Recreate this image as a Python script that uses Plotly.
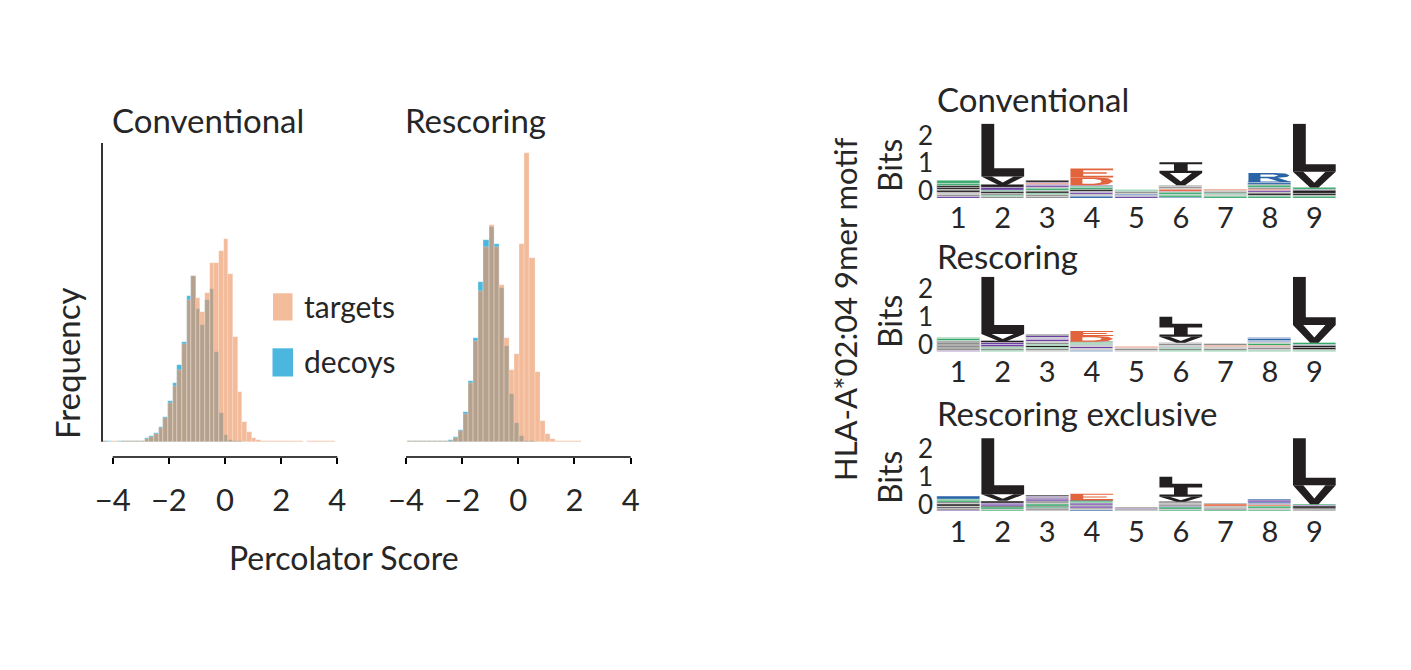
import plotly.graph_objects as go

W, H = 1411, 670
FONT = "Source Sans Pro, Lato, sans-serif"
TXT = "#262626"

# ---------------- histogram data (bar heights, arbitrary frequency units) -------------
conv_bin_start = -4.349
conv_bin_width = 0.1655
conv_targets = [0.3, 0.0, 0.3, 0.0, 0.3, 0.3, 0.7, 0.7,
                1, 2.7, 5, 7.7, 14, 24, 39, 56, 72, 98, 142, 165.7, 144, 130, 149, 179, 179,
                190.7, 202.7, 168, 105, 50, 20, 10, 4, 1.7, 0.7,
                0.3, 0.3, 0.3, 0.3, 0.3, 0.3, 0.3, 0.3, 0, 0.3, 0.3, 0.3, 0.3, 0.3, 0.3]
conv_decoys = [0.3, 0.3, 0, 0.3, 0.3, 0.7, 0.7, 0.7,
               1, 3.3, 5.3, 9, 14.7, 24.7, 40.3, 58.7, 76.7, 99.3, 145.7, 165.7, 133, 117, 142,
               153, 89.7, 29, 6.7, 1.7, 0.7, 0.3, 0, 0, 0, 0, 0,
               0, 0, 0, 0, 0, 0, 0, 0, 0, 0, 0, 0, 0, 0, 0]

resc_bin_start = -3.96
resc_bin_width = 0.182
resc_targets = [0.3, 0.3, 0.3, 0.3, 0.3, 0.3, 0.3, 0.7,
                1, 3.7, 10.7, 27.3, 58.3, 101, 150.3, 194.3, 216.7, 194.3, 156.7, 104, 72, 87.3,
                197.3, 288.7, 183.7, 70, 21, 7.3, 2.7, 0.7,
                0.3, 0.3, 0.3, 0.3]
resc_decoys = [0.3, 0.3, 0.3, 0.3, 0.3, 0.3, 0.3, 0.7,
               1.3, 4.3, 11.7, 30, 60.3, 103.7, 159.7, 201.7, 214.3, 197.7, 153.3, 96, 47.7, 18.7,
               5.3, 1, 0.3, 0, 0, 0, 0, 0,
               0, 0, 0, 0]

hist_xticks = [-4, -2, 0, 2, 4]
hist_ymax = 298.7

# ---------------- sequence logo data (letter, bits) bottom -> top ----------------------
logo_positions = [1, 2, 3, 4, 5, 6, 7, 8, 9]
logo_titles = ["Conventional", "Rescoring", "Rescoring exclusive"]
logo_yticks = [0, 1, 2]
stack_floor = -0.25

logo_conventional = [
    [("Q", .05), ("A", .06), ("G", .04), ("P", .04), ("L", .08), ("A", .05), ("V", .07), ("I", .05), ("T", .09), ("S", .10)],
    [("G", .05), ("S", .05), ("A", .05), ("I", .07), ("T", .05), ("Q", .09), ("M", .11), ("V", .30), ("L", 1.90)],
    [("G", .05), ("A", .06), ("T", .06), ("V", .06), ("P", .05), ("S", .05), ("A", .05), ("Q", .06), ("N", .05), ("E", .03), ("Q", .05), ("L", .07)],
    [("H", .04), ("A", .05), ("G", .05), ("N", .06), ("P", .05), ("L", .04), ("S", .07), ("T", .05), ("Q", .05), ("D", .28), ("E", .32)],
    [("Q", .04), ("A", .05), ("K", .04), ("G", .05), ("P", .05), ("S", .04), ("T", .03), ("E", .02)],
    [("H", .03), ("S", .05), ("A", .06), ("T", .05), ("Q", .06), ("E", .04), ("G", .05), ("P", .06), ("A", .06), ("V", .44), ("I", .39)],
    [("S", .05), ("A", .05), ("G", .04), ("T", .04), ("P", .05), ("A", .04), ("E", .04)],
    [("T", .05), ("G", .05), ("L", .05), ("A", .06), ("Q", .06), ("E", .05), ("P", .05), ("S", .07), ("V", .04), ("K", .07), ("H", .03), ("R", .32)],
    [("S", .04), ("A", .06), ("M", .08), ("I", .10), ("Q", .04), ("T", .06), ("V", .56), ("L", 1.73)],
]
logo_rescoring = [
    [("Q", .05), ("A", .06), ("L", .05), ("G", .04), ("V", .06), ("P", .05), ("I", .05), ("A", .04), ("T", .05), ("S", .05)],
    [("T", .05), ("A", .05), ("S", .04), ("I", .05), ("Q", .07), ("N", .05), ("M", .07), ("V", .25), ("L", 2.05)],
    [("G", .05), ("A", .06), ("T", .05), ("V", .05), ("S", .05), ("P", .05), ("A", .05), ("Q", .06), ("N", .05), ("A", .04), ("Q", .05), ("L", .04)],
    [("H", .03), ("A", .05), ("G", .04), ("N", .05), ("P", .04), ("Q", .05), ("S", .04), ("T", .03), ("L", .03), ("D", .20), ("E", .18)],
    [("A", .05), ("P", .05), ("G", .04), ("E", .04)],
    [("S", .04), ("A", .05), ("T", .04), ("Q", .05), ("G", .04), ("P", .05), ("A", .05), ("V", .21), ("I", .42), ("L", .30)],
    [("S", .04), ("A", .05), ("G", .04), ("P", .05), ("E", .04), ("A", .05)],
    [("T", .04), ("G", .04), ("A", .05), ("Q", .04), ("E", .05), ("S", .05), ("P", .04), ("N", .05), ("K", .05), ("R", .04), ("H", .05)],
    [("S", .03), ("A", .05), ("M", .06), ("I", .08), ("Q", .04), ("T", .06), ("V", .63), ("L", 1.73)],
]
logo_exclusive = [
    [("Q", .05), ("A", .06), ("L", .05), ("G", .04), ("V", .06), ("P", .05), ("I", .04), ("S", .06), ("T", .05), ("K", .08)],
    [("T", .05), ("A", .05), ("S", .05), ("I", .05), ("Q", .07), ("N", .05), ("M", .07), ("V", .24), ("L", 2.02)],
    [("G", .05), ("A", .06), ("T", .05), ("V", .05), ("S", .06), ("P", .05), ("A", .05), ("Q", .06), ("N", .05), ("A", .04), ("Q", .04), ("L", .04)],
    [("H", .04), ("A", .05), ("G", .05), ("N", .05), ("P", .05), ("Q", .05), ("S", .04), ("T", .04), ("L", .04), ("E", .24)],
    [("A", .05), ("P", .05), ("Q", .03), ("G", .03)],
    [("S", .05), ("A", .05), ("T", .05), ("Q", .06), ("G", .05), ("P", .05), ("A", .05), ("V", .18), ("I", .42), ("L", .30)],
    [("S", .05), ("A", .06), ("G", .05), ("P", .05), ("E", .05), ("A", .06)],
    [("T", .04), ("G", .04), ("A", .05), ("S", .05), ("E", .04), ("P", .04), ("N", .05), ("K", .04), ("Q", .05), ("R", .04)],
    [("S", .03), ("A", .04), ("M", .06), ("I", .06), ("Q", .03), ("T", .05), ("V", .68), ("L", 1.70)],
]

# ---------------- styles ----------------
TARGET_COLOR = "rgba(237,150,100,0.65)"
TARGET_SWATCH = "rgb(243,188,154)"
DECOY_COLOR = "rgb(75,183,222)"

AA_COLORS = {}
for a in "LIVMFW":
    AA_COLORS[a] = "#231f20"
for a in "APG":
    AA_COLORS[a] = "#8e8e8e"
for a in "STYC":
    AA_COLORS[a] = "#37a86b"
for a in "NQ":
    AA_COLORS[a] = "#6b3fa3"
for a in "KRH":
    AA_COLORS[a] = "#2a63a6"
for a in "DE":
    AA_COLORS[a] = "#e2643c"

# glyph outlines in a unit box (x: 0..1 across column, y: 0..1 up the letter height)
GLYPHS = {
    "L": [[(0, 0), (1, 0), (1, 0.16), (0.3, 0.16), (0.3, 1), (0, 1)]],
    "V": [[(0, 1), (0.4, 0), (0.6, 0), (1, 1), (0.76, 1), (0.5, 0.3), (0.24, 1)]],
    "I": [[(0, 0), (1, 0), (1, 0.2), (0.66, 0.2), (0.66, 0.8), (1, 0.8), (1, 1), (0, 1),
           (0, 0.8), (0.34, 0.8), (0.34, 0.2), (0, 0.2)]],
    "E": [[(0, 0), (1, 0), (1, 0.18), (0.3, 0.18), (0.3, 0.42), (0.85, 0.42), (0.85, 0.58),
           (0.3, 0.58), (0.3, 0.82), (1, 0.82), (1, 1), (0, 1)]],
    "D": [[(0, 0), (0.6, 0), (0.88, 0.12), (1, 0.5), (0.88, 0.88), (0.6, 1), (0, 1)],
          [(0.28, 0.2), (0.55, 0.2), (0.7, 0.32), (0.73, 0.5), (0.7, 0.68), (0.55, 0.8), (0.28, 0.8)]],
    "R": [[(0, 0), (0.28, 0), (0.28, 0.42), (0.45, 0.42), (0.74, 0), (1, 0), (0.68, 0.46),
           (0.9, 0.56), (0.96, 0.75), (0.86, 0.94), (0.6, 1), (0, 1)],
          [(0.28, 0.58), (0.28, 0.84), (0.6, 0.84), (0.7, 0.72), (0.6, 0.58)]],
}
COL_W = 0.96

fig = go.Figure()
shapes = []
annotations = []


def px_x(px):
    return px / W


def px_y(py):
    return 1 - py / H


# ---------------- histograms ----------------
def add_hist(start, width, targets, decoys, xa, ya):
    centers = [start + width * (i + 0.5) for i in range(len(targets))]
    fig.add_trace(go.Bar(x=centers, y=decoys, width=width, xaxis=xa, yaxis=ya,
                         marker=dict(color=DECOY_COLOR, line=dict(width=0.5, color="rgba(255,255,255,0.45)")),
                         showlegend=False, hoverinfo="skip"))
    fig.add_trace(go.Bar(x=centers, y=targets, width=width, xaxis=xa, yaxis=ya,
                         marker=dict(color=TARGET_COLOR, line=dict(width=0.5, color="rgba(255,255,255,0.45)")),
                         showlegend=False, hoverinfo="skip"))


add_hist(conv_bin_start, conv_bin_width, conv_targets, conv_decoys, "x", "y")
add_hist(resc_bin_start, resc_bin_width, resc_targets, resc_decoys, "x2", "y2")

ppu = 28.08
hist_range = [-4 - 10.7 / ppu, -4 + (343 - 112.7) / ppu]
hist_ydom = [px_y(457), px_y(143)]
hist_yrange = [-15.3, hist_ymax]

axis_common = dict(showgrid=False, zeroline=False, showline=False, automargin=False)
hx = dict(axis_common, range=hist_range, tickvals=hist_xticks, ticks="outside", ticklen=6,
          tickwidth=1.5, tickcolor="black", tickfont=dict(size=31, family=FONT, color=TXT),
          ticklabelstandoff=10)
hy = dict(axis_common, range=hist_yrange, domain=hist_ydom, showticklabels=False, ticks="")

layout = dict(
    xaxis=dict(hx, domain=[px_x(102), px_x(343)], anchor="y"),
    yaxis=dict(hy, anchor="x"),
    xaxis2=dict(hx, domain=[px_x(395.3), px_x(636.3)], anchor="y2"),
    yaxis2=dict(hy, anchor="x2"),
)

# axis lines (seaborn-style trimmed/offset)
for xr, yr in (("x", "y domain"), ("x2", "y2 domain")):
    shapes.append(dict(type="line", xref=xr, yref=yr, x0=hist_xticks[0], x1=hist_xticks[-1],
                       y0=0, y1=0, line=dict(color="black", width=1.6)))
shapes.append(dict(type="line", xref="x domain", yref="y", x0=0, x1=0, y0=0, y1=hist_ymax,
                   line=dict(color="black", width=1.6)))


def ann(text, x, y, size, xanchor="left", angle=0):
    annotations.append(dict(text=text, x=px_x(x), y=px_y(y), xref="paper", yref="paper",
                            xanchor=xanchor, yanchor="middle", showarrow=False, textangle=angle,
                            font=dict(size=size, family=FONT, color=TXT)))


ann("Conventional", 110, 120, 33)
ann("Rescoring", 403, 120, 33)
ann("Frequency", 67, 363, 33, xanchor="center", angle=-90)
ann("Percolator Score", 344, 557, 32, xanchor="center")

# legend
shapes.append(dict(type="rect", xref="paper", yref="paper", x0=px_x(273), x1=px_x(292.5),
                   y0=px_y(320.5), y1=px_y(293.3), fillcolor=TARGET_SWATCH, line=dict(width=0)))
shapes.append(dict(type="rect", xref="paper", yref="paper", x0=px_x(272.5), x1=px_x(293),
                   y0=px_y(376.5), y1=px_y(348.3), fillcolor=DECOY_COLOR, line=dict(width=0)))
ann("targets", 302, 306, 30)
ann("decoys", 302, 361, 30)


# ---------------- logos ----------------
def glyph_path(letter, pos, y0, h):
    parts = []
    for poly in GLYPHS[letter]:
        pts = [(pos - COL_W / 2 + gx * COL_W, y0 + gy * h) for gx, gy in poly]
        parts.append("M " + " L ".join(f"{x:.4f},{y:.4f}" for x, y in pts) + " Z")
    return " ".join(parts)


def add_logo(panel, xa, ya):
    stripes = {}
    for pos, stack in zip(logo_positions, panel):
        y0 = stack_floor
        for letter, h in stack:
            col = AA_COLORS[letter]
            if letter in GLYPHS and h >= 0.12:
                shapes.append(dict(type="path", path=glyph_path(letter, pos, y0, h), xref=xa, yref=ya,
                                   fillcolor=col, line=dict(width=0), fillrule="evenodd", layer="above"))
            else:
                s = stripes.setdefault(col, ([], [], []))
                s[0].append(pos)
                s[1].append(y0)
                s[2].append(h)
            y0 += h
    for col, (xs, bs, hs) in stripes.items():
        fig.add_trace(go.Bar(x=xs, y=hs, base=bs, width=COL_W, xaxis=xa, yaxis=ya,
                             marker=dict(color=col, line=dict(color="white", width=0.4)),
                             showlegend=False, hoverinfo="skip"))


logo_panels = [logo_conventional, logo_rescoring, logo_exclusive]
logo_ybounds = [(123.5, 198), (276.7, 351.7), (437.3, 511.7)]
logo_title_y = [99, 256, 413]
logo_bits_y = [166, 322, 478]
logo_xdom = [px_x(936), px_x(1336.6)]
for k, panel in enumerate(logo_panels):
    n = 3 + k
    xa, ya = f"x{n}", f"y{n}"
    add_logo(panel, xa, ya)
    top, bot = logo_ybounds[k]
    layout[f"xaxis{n}"] = dict(axis_common, domain=logo_xdom, range=[0.5, 9.5], anchor=ya,
                               tickvals=logo_positions, ticks="",
                               tickfont=dict(size=29, family=FONT, color=TXT), ticklabelstandoff=0)
    layout[f"yaxis{n}"] = dict(axis_common, domain=[px_y(bot), px_y(top)], range=[stack_floor, 2.43],
                               anchor=xa, tickvals=logo_yticks, ticks="",
                               tickfont=dict(size=26, family=FONT, color=TXT), ticklabelstandoff=2)
    ann(logo_titles[k], 935, logo_title_y[k], 33)
    ann("Bits", 889, logo_bits_y[k], 32, xanchor="center", angle=-90)

ann("HLA-A*02:04 9mer motif", 845, 310, 31, xanchor="center", angle=-90)

fig.update_layout(
    width=W, height=H, margin=dict(l=0, r=0, t=0, b=0),
    paper_bgcolor="white", plot_bgcolor="white",
    barmode="overlay", bargap=0, showlegend=False,
    shapes=shapes, annotations=annotations,
    font=dict(family=FONT, color=TXT),
    **layout,
)

fig.write_html("out.html")
